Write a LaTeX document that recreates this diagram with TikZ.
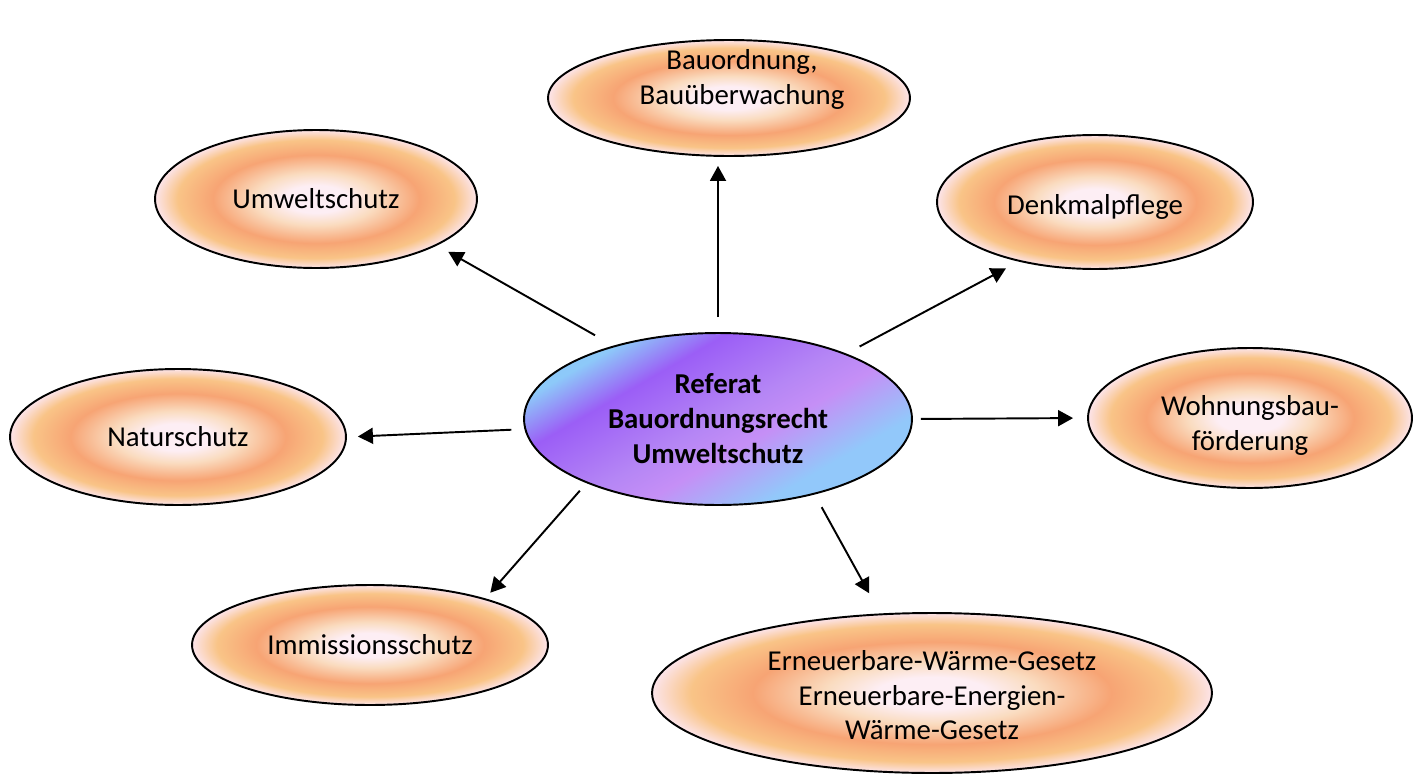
\documentclass[tikz,border=0pt]{standalone}
\usepackage{fontspec}
\setmainfont{Carlito}
\usetikzlibrary{shapes.geometric,arrows.meta}

% Farben der Verlaeufe
\definecolor{pfA}{HTML}{FDEEF4}
\definecolor{pfB}{HTML}{FADCC0}
\definecolor{pfC}{HTML}{F7A474}
\definecolor{pfD}{HTML}{F9C487}
\definecolor{pfE}{HTML}{FCE4EA}
\definecolor{rbA}{HTML}{8DC9F9}
\definecolor{rbB}{HTML}{9B5EF6}
\definecolor{rbC}{HTML}{B586F5}
\definecolor{rbD}{HTML}{C58FF6}
\definecolor{rbE}{HTML}{92C8FA}

% Pfirsich (radial) fuer die aeusseren Blasen
\pgfdeclareradialshading{pfirsich}{\pgfpoint{0bp}{0bp}}{%
  color(0bp)=(pfA); color(5bp)=(pfA); color(9.5bp)=(pfB);
  color(16bp)=(pfC); color(21.5bp)=(pfD); color(25bp)=(pfE); color(50bp)=(pfE)}
% Regenbogen (linear, schraeg) fuer die Mitte
\pgfdeclarehorizontalshading{regenbogen}{100bp}{%
  color(0bp)=(rbA); color(35.6bp)=(rbA); color(41.25bp)=(rbB); color(50bp)=(rbC);
  color(54.4bp)=(rbD); color(62bp)=(rbE); color(100bp)=(rbE)}

% Text in der Blase verschieben (rechts, hoch)
\newcommand{\versetzt}[3]{\raisebox{#2}[\height][\depth]{\hspace*{#1}\begin{tabular}{@{}c@{}}#3\end{tabular}}}

\begin{document}
\begin{tikzpicture}[x=0.02cm, y=-0.02cm,
  blase/.style={ellipse, draw=black, line width=1.1pt, shading=pfirsich,
    inner sep=0pt, align=center, font=\fontsize{16.4}{19.9}\selectfont},
  pfeil/.style={-{Triangle[length=0.3cm,width=0.32cm]}, line width=1.1pt}]
  \useasboundingbox (0,0) rectangle (1420,774);

  % 1. Mitte
  \node[ellipse, draw=black, line width=1.1pt, inner sep=0pt, align=center,
    font=\fontsize{16.4}{19.9}\selectfont\bfseries,
    minimum width=7.76cm, minimum height=3.44cm,
    path picture={\shade[shading=regenbogen, shading angle=-60]
      (path picture bounding box.center) ++(-4cm,-4cm) rectangle ++(8cm,8cm);}]
    (mitte) at (718,419) {Referat\\Bauordnungsrecht\\Umweltschutz};

  % 2. Themen rundherum
  \node[blase, minimum width=7.24cm, minimum height=2.32cm] (bau) at (729,98)
    {\versetzt{0.52cm}{0.36cm}{Bauordnung,\\Bauüberwachung}};
  \node[blase, minimum width=6.44cm, minimum height=2.76cm] (umwelt) at (316,199) {Umweltschutz};
  \node[blase, minimum width=6.32cm, minimum height=2.68cm] (denkmal) at (1095,202)
    {\versetzt{0cm}{-0.12cm}{Denkmalpflege}};
  \node[blase, minimum width=6.72cm, minimum height=2.72cm] (natur) at (178,437) {Naturschutz};
  \node[blase, minimum width=6.48cm, minimum height=2.80cm] (wohnung) at (1250,418)
    {\versetzt{0cm}{-0.16cm}{Wohnungsbau-\\förderung}};
  \node[blase, minimum width=7.12cm, minimum height=2.40cm] (immission) at (370,645) {Immissionsschutz};
  \node[blase, minimum width=11.2cm, minimum height=3.20cm] (erneuerbar) at (932,693)
    {\versetzt{0cm}{-0.1cm}{Erneuerbare-Wärme-Gesetz\\Erneuerbare-Energien-\\Wärme-Gesetz}};

  % 3. Pfeile (mit Abstand zu den Blasen)
  \draw[pfeil, shorten <=0.3cm, shorten >=0.18cm] (mitte.north) -- (mitte.north |- bau.south);
  \draw[pfeil, shorten <=0.42cm, shorten >=0.26cm] (mitte.145.5) -- (umwelt.-21.3);
  \draw[pfeil, shorten <=0.3cm, shorten >=0.29cm] (mitte.27.2) -- (denkmal.218.3);
  \draw[pfeil, shorten <=0.26cm, shorten >=0.22cm] (mitte.183.6) -- (natur.east);
  \draw[pfeil, shorten <=0.16cm, shorten >=0.28cm] (mitte.east) -- (wohnung.west);
  \draw[pfeil, shorten <=0.2cm, shorten >=0.15cm] (mitte.206.1) -- (immission.22.2);
  \draw[pfeil, shorten <=0.29cm, shorten >=0.46cm] (mitte.-38.1) -- (erneuerbar.123.1);

\end{tikzpicture}
\end{document}
